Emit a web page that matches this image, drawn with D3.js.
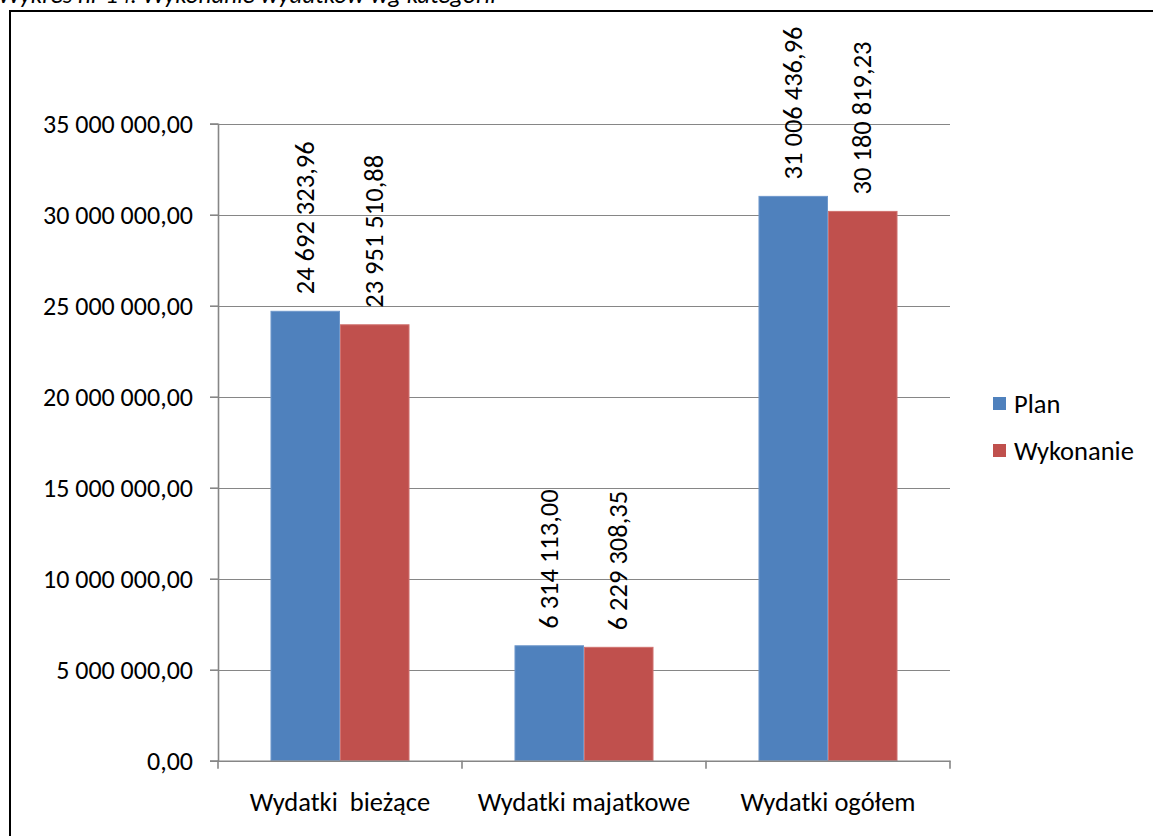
<!DOCTYPE html>
<html>
<head>
<meta charset="utf-8">
<script src="https://cdn.jsdelivr.net/npm/d3@7"></script>
<style>
  html, body { margin: 0; padding: 0; background: #fff; }
  svg { display: block; }
  text { font-family: Carlito, Calibri, Lato, "Open Sans", sans-serif; fill: #000; }
</style>
</head>
<body>
<svg id="chart" width="1153" height="836"></svg>
<script>
// Expenditure by category: plan vs. execution
const categories = ["Wydatki  bieżące", "Wydatki majatkowe", "Wydatki ogółem"];
const seriesNames = ["Plan", "Wykonanie"];
const planValues = [24692323.96, 6314113.00, 31006436.96];
const executionValues = [23951510.88, 6229308.35, 30180819.23];
const yTicks = [0, 5000000, 10000000, 15000000, 20000000, 25000000, 30000000, 35000000];
const colors = ["#4F81BD", "#C0504D"];
const edgeColors = ["#6E98CB", "#D07270"];
const titleText = "Wykres nr 14. Wykonanie wydatków wg kategorii";

const series = [planValues, executionValues];

// Polish number formatting: space thousands, comma decimal
const plFormat = d3.formatLocale({ decimal: ",", thousands: "\u00a0", grouping: [3], currency: ["", " zł"] }).format(",.2f");
const fmt = v => plFormat(v).replace(/\u00a0/g, " ");

const svg = d3.select("#chart");

// Title sitting above the frame
svg.append("text")
  .attr("x", -2).attr("y", 3)
  .attr("font-size", 25).attr("font-style", "italic")
  .text(titleText);

// Chart frame
svg.append("rect")
  .attr("x", 10).attr("y", 11)
  .attr("width", 1160).attr("height", 840)
  .attr("fill", "none").attr("stroke", "#000").attr("stroke-width", 2);

const plot = { left: 218, right: 950, top: 123.7, bottom: 760.7 };

const x = d3.scaleBand().domain(categories).range([plot.left, plot.right]).paddingInner(0).paddingOuter(0);
const xs = d3.scaleBand().domain(seriesNames).range([0, x.bandwidth()]).paddingInner(0).paddingOuter(0.755);
const y = d3.scaleLinear().domain([0, 35000000]).range([plot.bottom, plot.top]);

// Gridlines
svg.append("g").selectAll("line").data(yTicks.filter(t => t > 0)).join("line")
  .attr("x1", plot.left).attr("x2", plot.right)
  .attr("y1", d => Math.round(y(d)) + 0.5).attr("y2", d => Math.round(y(d)) + 0.5)
  .attr("stroke", "#868686").attr("stroke-width", 1.2);

// Y axis
const yAxis = svg.append("g")
  .attr("transform", `translate(${plot.left},0)`)
  .call(d3.axisLeft(y).tickValues(yTicks).tickFormat(fmt).tickSize(8).tickPadding(17));
yAxis.select(".domain").attr("stroke", "#868686").attr("stroke-width", 1.6);
yAxis.selectAll(".tick line").attr("stroke", "#868686").attr("stroke-width", 1.6);
yAxis.selectAll(".tick text").attr("font-size", 26).attr("font-family", null).attr("fill", "#000");

// Bars
const groups = svg.append("g").selectAll("g").data(categories).join("g")
  .attr("transform", d => `translate(${x(d)},0)`);

groups.selectAll("rect")
  .data((c, i) => seriesNames.map((s, k) => ({ s, k, v: series[k][i] })))
  .join("rect")
  .attr("x", d => xs(d.s) + 0.5)
  .attr("width", xs.bandwidth() - 1)
  .attr("y", d => y(d.v))
  .attr("height", d => plot.bottom - y(d.v))
  .attr("fill", d => colors[d.k])
  .attr("stroke", d => edgeColors[d.k])
  .attr("stroke-width", 1);

// Rotated value labels
groups.selectAll("text.val")
  .data((c, i) => seriesNames.map((s, k) => ({ s, k, v: series[k][i] })))
  .join("text")
  .attr("class", "val")
  .attr("transform", d => `translate(${xs(d.s) + xs.bandwidth() / 2 + 8.5},${y(d.v) - 17}) rotate(-90)`)
  .attr("font-size", 26.5)
  .text(d => fmt(d.v));

// X axis
const xAxis = svg.append("g")
  .attr("transform", `translate(0,${plot.bottom})`)
  .call(d3.axisBottom(x).tickSize(0).tickPadding(0));
xAxis.select(".domain").attr("stroke", "#868686").attr("stroke-width", 1.6);
xAxis.selectAll(".tick text").remove();
// Category boundary ticks
const bounds = [plot.left, ...categories.map(c => x(c) + x.bandwidth())];
xAxis.selectAll("line.bound").data(bounds).join("line")
  .attr("class", "bound")
  .attr("x1", d => d).attr("x2", d => d)
  .attr("y1", 0).attr("y2", 8)
  .attr("stroke", "#868686").attr("stroke-width", 1.6);
xAxis.selectAll("text.cat").data(categories).join("text")
  .attr("class", "cat")
  .attr("x", d => x(d) + x.bandwidth() / 2)
  .attr("y", 50)
  .attr("text-anchor", "middle")
  .attr("font-size", 26.5)
  .attr("xml:space", "preserve")
  .style("white-space", "pre")
  .text(d => d);

// Legend
const legend = svg.append("g").attr("transform", "translate(993,397)");
const li = legend.selectAll("g").data(seriesNames).join("g")
  .attr("transform", (d, i) => `translate(0,${i * 47})`);
li.append("rect").attr("width", 13).attr("height", 13).attr("fill", (d, i) => colors[i]);
li.append("text").attr("x", 21).attr("y", 6.5).attr("dy", "0.35em").attr("font-size", 26.5).text(d => d);
</script>
</body>
</html>
